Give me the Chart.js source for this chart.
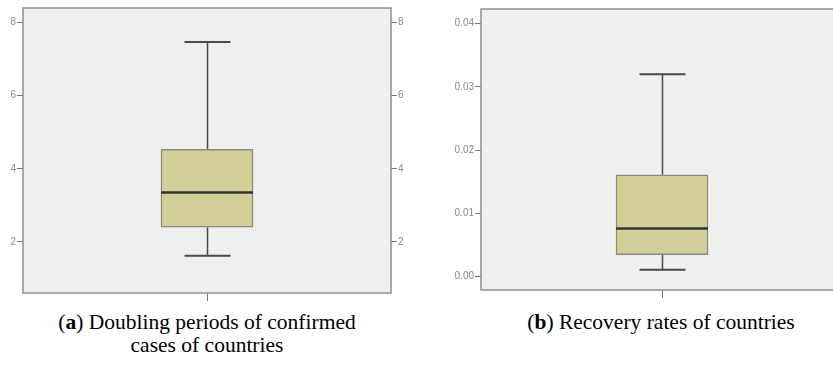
<!DOCTYPE html>
<html>
<head>
<meta charset="utf-8">
<script src="https://cdn.jsdelivr.net/npm/chart.js@4/dist/chart.umd.min.js"></script>
<style>
  html, body { margin: 0; padding: 0; background: #fff; }
  body { width: 833px; height: 369px; position: relative; overflow: hidden; }
  canvas { position: absolute; top: 0; }
  .caption {
    position: absolute; width: 440px; text-align: center;
    font-family: "Liberation Serif", "Times New Roman", serif;
    font-size: 21.5px; line-height: 23px; color: #000;
  }
</style>
</head>
<body>
<canvas id="doubling-chart" width="420" height="305" style="left:0"></canvas>
<canvas id="recovery-chart" width="423" height="305" style="left:420px"></canvas>
<div class="caption" style="left:-13px; top:311px">(<b>a</b>) Doubling periods of confirmed<br>cases of countries</div>
<div class="caption" style="left:441px; top:311px">(<b>b</b>) Recovery rates of countries</div>

<script>
// box stats: min, q1, median, q3, max
const boxLabels = [''];
const doublingStats = [1.62, 2.4, 3.35, 4.53, 7.47];
const recoveryStats = [0.0011, 0.0035, 0.0076, 0.0161, 0.032];
const doublingTicks = [2, 4, 6, 8];
const recoveryTicks = [0, 0.01, 0.02, 0.03, 0.04];

// draws panel background, whiskers, median and frame around the plot
const boxPlot = {
    id: 'boxPlot',
    beforeDatasetsDraw(chart, args, opts) {
        const { ctx, chartArea: a } = chart;
        ctx.save();
        ctx.fillStyle = '#efefef';
        ctx.fillRect(a.left, a.top, a.right - a.left, a.bottom - a.top);

        const y = chart.scales.y;
        const bar = chart.getDatasetMeta(0).data[0];
        const s = opts.stats;
        const cx = Math.round(bar.x) + 0.5;
        ctx.strokeStyle = '#4a4a4a';
        ctx.lineWidth = 1.5;
        ctx.beginPath();
        ctx.moveTo(cx, y.getPixelForValue(s[4]));
        ctx.lineTo(cx, y.getPixelForValue(s[3]));
        ctx.moveTo(cx, y.getPixelForValue(s[1]));
        ctx.lineTo(cx, y.getPixelForValue(s[0]));
        ctx.stroke();
        ctx.lineWidth = 2;
        ctx.beginPath();
        [s[0], s[4]].forEach(v => {
            const py = y.getPixelForValue(v);
            ctx.moveTo(cx - 23, py);
            ctx.lineTo(cx + 23, py);
        });
        ctx.stroke();
        ctx.restore();
    },
    afterDatasetsDraw(chart, args, opts) {
        const { ctx } = chart;
        const y = chart.scales.y;
        const bar = chart.getDatasetMeta(0).data[0];
        const py = y.getPixelForValue(opts.stats[2]);
        ctx.save();
        ctx.strokeStyle = '#333';
        ctx.lineWidth = 2.5;
        ctx.beginPath();
        ctx.moveTo(bar.x - bar.width / 2, py);
        ctx.lineTo(bar.x + bar.width / 2, py);
        ctx.stroke();

        const a = chart.chartArea;
        ctx.strokeStyle = '#8f8f8f';
        ctx.lineWidth = 1.5;
        ctx.strokeRect(a.left, a.top, a.right - a.left, a.bottom - a.top);
        ctx.restore();
    }
};

const tickFont = { family: 'Liberation Sans, Arial, sans-serif', size: 10 };
const tickColor = '#8a8a8a';

function yAxis(min, max, ticks, width, position, fmt) {
    return {
        type: 'linear',
        position: position,
        min: min,
        max: max,
        afterBuildTicks: scale => { scale.ticks = ticks.map(v => ({ value: v })); },
        afterFit: scale => { scale.width = width; },
        grid: { drawOnChartArea: false, tickLength: 6, color: '#777', lineWidth: 1 },
        border: { display: false },
        ticks: { font: tickFont, color: tickColor, padding: 1, callback: fmt }
    };
}

function makeBox(id, stats, scales, padTop, xHeight) {
    new Chart(document.getElementById(id), {
        type: 'bar',
        data: {
            labels: boxLabels,
            datasets: [{
                data: [[stats[1], stats[3]]],
                backgroundColor: '#d3cf98',
                borderColor: '#8c8b78',
                borderWidth: 1.5,
                borderSkipped: false,
                barThickness: 92
            }]
        },
        options: {
            responsive: false,
            animation: false,
            layout: { padding: { top: padTop, left: 0, right: 0, bottom: 0 } },
            plugins: {
                legend: { display: false },
                tooltip: { enabled: false },
                boxPlot: { stats: stats }
            },
            scales: Object.assign({
                x: {
                    type: 'category',
                    offset: true,
                    afterFit: scale => { scale.height = xHeight; },
                    grid: { offset: false, drawOnChartArea: false, tickLength: 8, color: '#777' },
                    border: { display: false },
                    ticks: { display: false }
                }
            }, scales)
        },
        plugins: [boxPlot]
    });
}

makeBox('doubling-chart', doublingStats, {
    y: yAxis(0.6, 8.4, doublingTicks, 23, 'left', v => v),
    y2: yAxis(0.6, 8.4, doublingTicks, 29, 'right', v => v)
}, 8, 12);

makeBox('recovery-chart', recoveryStats, {
    y: yAxis(-0.0021, 0.0423, recoveryTicks, 61, 'left', v => v.toFixed(2))
}, 9, 15);
</script>
</body>
</html>
